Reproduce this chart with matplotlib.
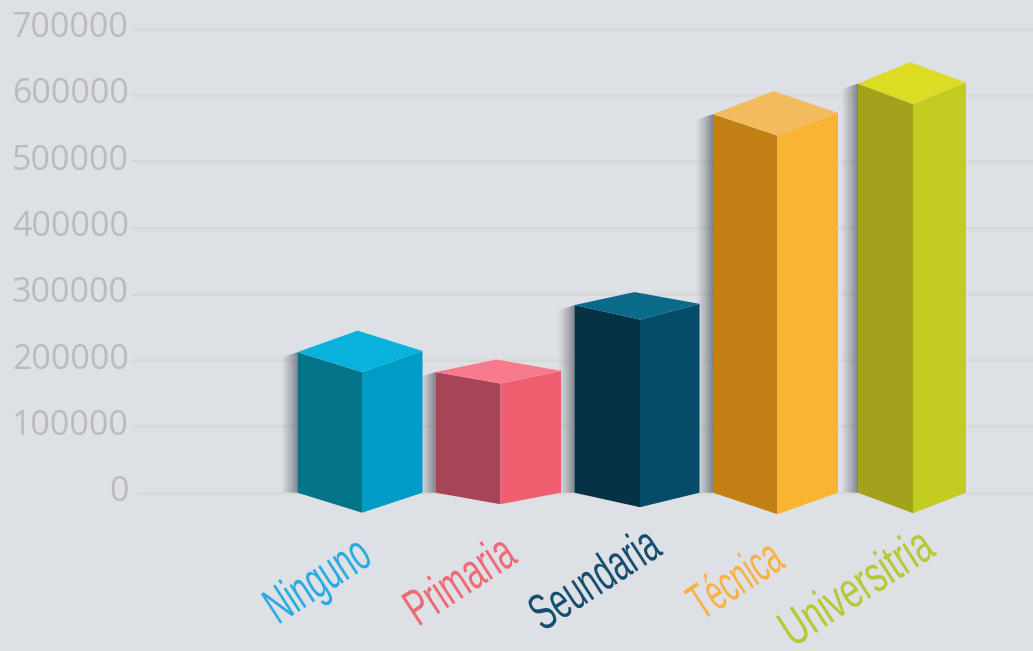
import matplotlib
matplotlib.use("Agg")
import matplotlib.pyplot as plt
import matplotlib.patheffects as pe
import numpy as np
from matplotlib.patches import Polygon
from matplotlib.transforms import Affine2D

categorias = ["Ninguno", "Primaria", "Seundaria", "Técnica", "Universitria"]
valores = [212000, 182000, 283000, 571000, 617000]
ticks_y = [0, 100000, 200000, 300000, 400000, 500000, 600000, 700000]

# colores de cada cara: izquierda, derecha, tapa, y el de la etiqueta
cara_izq = ["#047488", "#a64558", "#053244", "#c28014", "#a3a21b"]
cara_der = ["#019cc6", "#f05f6f", "#064c68", "#f9b532", "#c1cb20"]
cara_top = ["#08b2dc", "#f87a8d", "#0a6a8a", "#f3bb5d", "#dcdc24"]
color_txt = ["#29abe2", "#ef6a72", "#164f6e", "#fbb040", "#b5c935"]

# geometria de las cajas en pixeles
x_izq = [297.5, 435.5, 574.5, 713, 858]
x_frente = [362, 500.5, 640, 777.5, 913]
x_der = [422.5, 561, 699.5, 838, 966]
x_fondo = [357.5, 496.5, 634.5, 773.5, 910]
caida = [20, 11.5, 14.5, 21.5, 20.5]
subida = [21.5, 12.5, 13, 23, 21.5]

# inicio de cada etiqueta (pixeles de la imagen) y cuanto se aprieta
txt_x = [278, 418, 543, 702, 793]
txt_y = [625, 627, 632, 621, 648]
apriete = [0.60, 0.63, 0.615, 0.56, 0.67]

BASE = 492.7   # fila del cero
ESCALA = 100000 / 66.3   # valor por pixel
FONDO = "#dde0e5"


class Angosto(pe.AbstractPathEffect):
    # no hay fuente condensada, se aprieta el texto a lo largo
    def __init__(self, factor):
        super().__init__()
        self.factor = factor

    def draw_path(self, renderer, gc, tpath, affine, rgbFace=None):
        nuevo = Affine2D().scale(self.factor, 1) + affine
        renderer.draw_path(gc, tpath, nuevo, rgbFace)


fig = plt.figure(figsize=(10.33, 6.51), dpi=100, facecolor=FONDO)
ax = fig.add_axes([133 / 1033, (651 - BASE) / 651, 900 / 1033, BASE / 651])
ax.set_facecolor("none")
for s in ax.spines.values():
    s.set_visible(False)

ax.set_xticks([])
ax.set_yticks(ticks_y)
ax.set_yticklabels([str(t) for t in ticks_y], fontsize=24.5, family="Open Sans", color="#b9bbbe")
ax.tick_params(axis="y", length=0, pad=3)
for lab in ax.get_yticklabels():
    lab.set_transform(lab.get_transform() + Affine2D().translate(0, 4.5))
ax.grid(axis="y", color="#d9d9d8", linewidth=2.1, zorder=0)
for g in ax.get_ygridlines():
    g.set_clip_on(False)
ax.get_ygridlines()[0].set_xdata([7 / 900, 1])
ax.set_axisbelow(True)

# sombra a la izquierda de cada caja
grad = np.zeros((1, 64, 4))
grad[0, :, :3] = np.array([0.36, 0.39, 0.42])
grad[0, :, 3] = np.linspace(0, 1, 64) ** 1.3 * 0.74

for i, v in enumerate(valores):
    x0 = x_izq[i]
    ancho = 18
    im = ax.imshow(grad, extent=[x0 - ancho, x0, 0, v], aspect="auto", zorder=2, interpolation="bilinear")
    clip = Polygon([[x0 - ancho, 0], [x0, 0], [x0, v], [x0 - ancho, v - 6 * ESCALA]],
                   transform=ax.transData, closed=True, facecolor="none", edgecolor="none")
    ax.add_patch(clip)
    im.set_clip_path(clip)

# las tres caras
for i, v in enumerate(valores):
    d = caida[i] * ESCALA
    u = subida[i] * ESCALA
    izq = [[x_izq[i], 0], [x_frente[i], -d], [x_frente[i], v - d], [x_izq[i], v]]
    der = [[x_frente[i], -d], [x_der[i], 0], [x_der[i], v + 1.2 * ESCALA], [x_frente[i], v - d]]
    tapa = [[x_izq[i], v], [x_fondo[i], v + u], [x_der[i], v + 1.2 * ESCALA], [x_frente[i], v - d]]
    ax.add_patch(Polygon(izq, facecolor=cara_izq[i], edgecolor="none", clip_on=False, zorder=3))
    ax.add_patch(Polygon(der, facecolor=cara_der[i], edgecolor="none", clip_on=False, zorder=3))
    ax.add_patch(Polygon(tapa, facecolor=cara_top[i], edgecolor="none", clip_on=False, zorder=3))

ax.set_xlim(133, 1033)
ax.set_ylim(0, BASE * ESCALA)

for i, nombre in enumerate(categorias):
    ax.text(txt_x[i], (BASE - txt_y[i]) * ESCALA, nombre, color=color_txt[i],
            fontsize=37, family="Liberation Sans", rotation=33,
            rotation_mode="anchor", ha="left", va="baseline", clip_on=False,
            path_effects=[Angosto(apriete[i])])

fig.savefig("out.png", dpi=100, facecolor=FONDO)
